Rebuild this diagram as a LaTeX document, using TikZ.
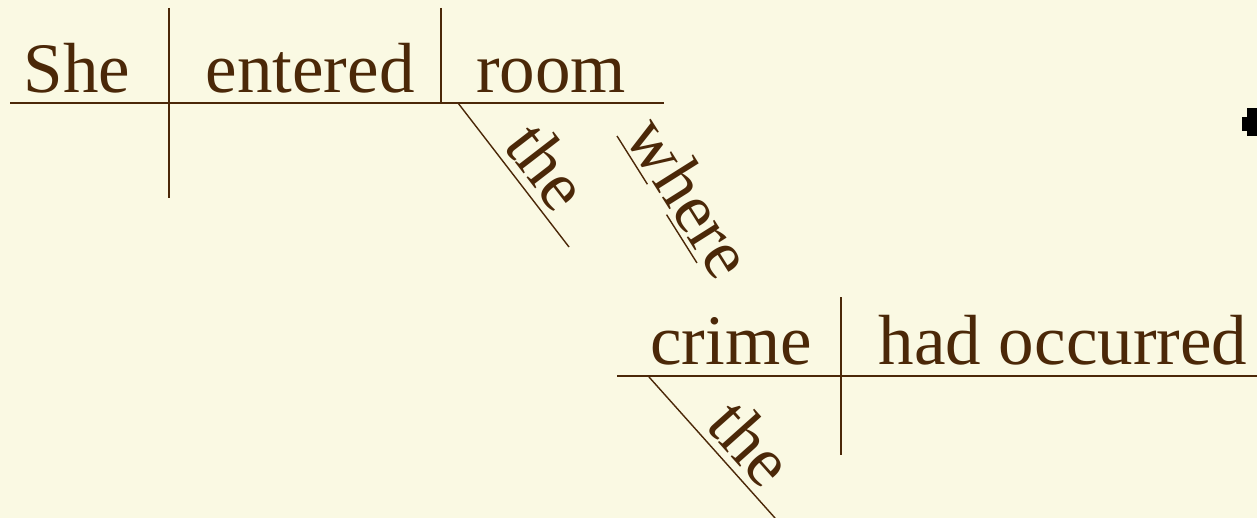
\documentclass[tikz,border=0pt]{standalone}
\usepackage{fontspec}
\setmainfont{Liberation Serif}
\usepackage{xcolor}
\definecolor{paper}{RGB}{250,249,227}
\definecolor{ink}{RGB}{75,40,8}
\newcommand{\diagfont}{\fontsize{35.5}{42}\selectfont}

\begin{document}
\begin{tikzpicture}[x=0.5pt, y=-0.5pt,
  word/.style={anchor=base, inner sep=0pt, text=ink, font=\diagfont},
  modword/.style={sloped, above, pos=#1, inner sep=3.5pt, text=ink, font=\diagfont},
  baseline/.style={draw=ink, line width=1pt},
  modline/.style={draw=ink, line width=0.7pt},
]
\fill[paper] (0,0) rectangle (1257,518);
\useasboundingbox (0,0) rectangle (1257,518);

% Main clause
\coordinate (mainW) at (10,103);
\coordinate (mainE) at (664,103);
\coordinate (subjT) at (169,8);
\coordinate (subjB) at (169,198);
\coordinate (objT) at (441,8);
\coordinate (objB) at (441,103);
\draw[baseline] (mainW) -- (mainE);
\draw[baseline] (subjT) -- (subjB);
\draw[baseline] (objT) -- (objB);
\node[word] (she) at (77,93) {She};
\node[word] (entered) at (310,93) {entered};
\node[word] (room) at (551,93) {room};

% Modifiers of room
\coordinate (theA) at (458,103);
\coordinate (theB) at (569,247);
\draw[modline] (theA) -- node[modword=0.575] (the1) {the} (theB);
\coordinate (whereA) at (617,136);
\coordinate (whereB) at (697,263);
\draw[modline, dash pattern=on 28.5pt off 18pt] (whereA) --
  node[modword=0.607, inner sep=2pt] (where) {where} (whereB);

% Relative clause
\coordinate (subW) at (617,376);
\coordinate (subE) at (1257,376);
\coordinate (crimeT) at (841,297);
\coordinate (crimeB) at (841,455);
\draw[baseline] (subW) -- (subE);
\draw[baseline] (crimeT) -- (crimeB);
\node[word] (crime) at (731,364) {crime};
\node[word] (occurred) at (1063,364) {had occurred};
\coordinate (the2A) at (649,377);
\coordinate (the2B) at (775,518);
\draw[modline] (the2A) -- node[modword=0.62] (the2) {the} (the2B);

% Mark at the right edge
\fill[black] (1242,117) rectangle (1250,131);
\fill[black] (1247,108) rectangle (1257,136);
\end{tikzpicture}
\end{document}
